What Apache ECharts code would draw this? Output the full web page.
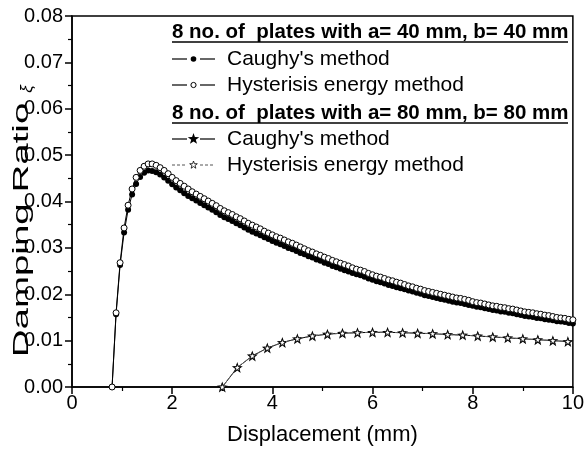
<!DOCTYPE html>
<html>
<head>
<meta charset="utf-8">
<script src="https://cdn.jsdelivr.net/npm/echarts@6/dist/echarts.min.js"></script>
<style>
html,body{margin:0;padding:0;background:#fff;}
#c{width:587px;height:451px;}
</style>
</head>
<body>
<div id="c"></div>
<script>
// ---- data ----
const xCircle = [0.80,0.88,0.96,1.04,1.12,1.20,1.28,1.36,1.44,1.52,1.60,1.68,1.76,1.84,1.92,2.00,2.08,2.16,2.24,2.32,2.40,2.48,2.56,2.64,2.72,2.80,2.88,2.96,3.04,3.12,3.20,3.28,3.36,3.44,3.52,3.60,3.68,3.76,3.84,3.92,4.00,4.08,4.16,4.24,4.32,4.40,4.48,4.56,4.64,4.72,4.80,4.88,4.96,5.04,5.12,5.20,5.28,5.36,5.44,5.52,5.60,5.68,5.76,5.84,5.92,6.00,6.08,6.16,6.24,6.32,6.40,6.48,6.56,6.64,6.72,6.80,6.88,6.96,7.04,7.12,7.20,7.28,7.36,7.44,7.52,7.60,7.68,7.76,7.84,7.92,8.00,8.08,8.16,8.24,8.32,8.40,8.48,8.56,8.64,8.72,8.80,8.88,8.96,9.04,9.12,9.20,9.28,9.36,9.44,9.52,9.60,9.68,9.76,9.84,9.92,10.00];
const caughy40 = [0,0.0157,0.0263,0.0333,0.0382,0.0415,0.0438,0.0453,0.0462,0.0467,
  0.0466,0.0463,0.0458,0.0452,0.0445,0.0437,0.0430,0.0424,0.0418,0.0412,
  0.0407,0.0402,0.0397,0.0392,0.0387,0.0382,0.0377,0.0371,0.0366,0.0362,
  0.0358,0.0353,0.0349,0.0344,0.0339,0.0335,0.0331,0.0327,0.0323,0.0319,
  0.0315,0.0311,0.0308,0.0304,0.0300,0.0297,0.0293,0.0289,0.0286,0.0282,
  0.0279,0.0275,0.0272,0.0268,0.0265,0.0261,0.0258,0.0255,0.0252,0.0249,
  0.0246,0.0243,0.0241,0.0238,0.0234,0.0231,0.0228,0.0226,0.0223,0.0220,
  0.0218,0.0215,0.0213,0.0211,0.0208,0.0206,0.0203,0.0201,0.0198,0.0196,
  0.0194,0.0192,0.0190,0.0188,0.0186,0.0184,0.0182,0.0181,0.0179,0.0177,
  0.0175,0.0173,0.0172,0.0170,0.0168,0.0166,0.0165,0.0163,0.0162,0.0160,
  0.0159,0.0157,0.0155,0.0153,0.0152,0.0151,0.0149,0.0148,0.0146,0.0145,
  0.0144,0.0142,0.0141,0.0140,0.0138,0.0137];
const hyst40 = [0,0.0160,0.0268,0.0343,0.0392,0.0427,0.0452,0.0467,0.0476,0.0481,
  0.0481,0.0478,0.0473,0.0467,0.0460,0.0452,0.0445,0.0439,0.0433,0.0427,
  0.0421,0.0416,0.0411,0.0406,0.0401,0.0396,0.0391,0.0385,0.0380,0.0376,
  0.0372,0.0367,0.0363,0.0358,0.0353,0.0349,0.0345,0.0341,0.0336,0.0332,
  0.0328,0.0324,0.0321,0.0317,0.0313,0.0310,0.0306,0.0302,0.0298,0.0294,
  0.0291,0.0287,0.0284,0.0280,0.0277,0.0273,0.0270,0.0267,0.0264,0.0261,
  0.0257,0.0254,0.0252,0.0249,0.0245,0.0242,0.0239,0.0237,0.0234,0.0231,
  0.0229,0.0226,0.0224,0.0221,0.0218,0.0216,0.0213,0.0211,0.0208,0.0206,
  0.0204,0.0202,0.0200,0.0198,0.0196,0.0194,0.0192,0.0191,0.0189,0.0187,
  0.0184,0.0182,0.0181,0.0179,0.0177,0.0175,0.0174,0.0172,0.0171,0.0169,
  0.0168,0.0166,0.0164,0.0162,0.0161,0.0160,0.0158,0.0157,0.0155,0.0154,
  0.0152,0.0150,0.0149,0.0148,0.0146,0.0145];
const xStar = [3.0,3.3,3.6,3.9,4.2,4.5,4.8,5.1,5.4,5.7,6.0,6.3,6.6,6.9,7.2,7.5,7.8,8.1,8.4,8.7,9.0,9.3,9.6,9.9];
const caughy80 = [0,0.0042,0.0067,0.0084,0.0096,0.0104,0.0110,0.0114,0.0116,0.0117,0.0118,0.0118,0.0117,0.0116,0.0115,0.0113,0.0112,0.0110,0.0108,0.0106,0.0104,0.0102,0.0100,0.0098];
const hyst80 = [0,0.0042,0.0067,0.0084,0.0096,0.0104,0.0110,0.0114,0.0116,0.0117,0.0118,0.0118,0.0117,0.0116,0.0115,0.0113,0.0112,0.0110,0.0108,0.0106,0.0104,0.0102,0.0100,0.0098];
const xTicks = [0,2,4,6,8,10];
const yTicks = ['0.00','0.01','0.02','0.03','0.04','0.05','0.06','0.07','0.08'];
const group1Title = '8 no. of  plates with a= 40 mm, b= 40 mm';
const group2Title = '8 no. of  plates with a= 80 mm, b= 80 mm';
const nameC = "Caughy's method";
const nameH = 'Hysterisis energy method';

const pairs = (xs, ys) => xs.map((x, i) => [x, ys[i]]);
const STAR = 'path://M50 0 L61.8 33.8 L97.6 34.5 L69 56.2 L79.4 90.5 L50 70 L20.6 90.5 L31 56.2 L2.4 34.5 L38.2 33.8 Z';
const FONT = 'Liberation Sans, Arial, sans-serif';

// legend key symbol: five-pointed star outline around a centre
function starShape(cx, cy, r) {
  const pts = [];
  for (let i = 0; i < 10; i++) {
    const a = -Math.PI / 2 + i * Math.PI / 5;
    const rr = i % 2 === 0 ? r : r * 0.4;
    pts.push([cx + rr * Math.cos(a), cy + rr * Math.sin(a)]);
  }
  return pts;
}

function legendRow(cy, kind, label) {
  const els = [];
  const dashed = kind === 'openStar';
  const lineStyle = dashed ? {stroke: '#555', lineWidth: 1, lineDash: [3, 2]} : {stroke: '#000', lineWidth: 1.2};
  els.push({type: 'line', shape: {x1: 172, y1: cy, x2: 187, y2: cy}, style: lineStyle, silent: true});
  els.push({type: 'line', shape: {x1: 200, y1: cy, x2: 215, y2: cy}, style: lineStyle, silent: true});
  if (kind === 'dot') {
    els.push({type: 'circle', shape: {cx: 193.5, cy: cy, r: 2.8}, style: {fill: '#000'}});
  } else if (kind === 'ring') {
    els.push({type: 'circle', shape: {cx: 193.5, cy: cy, r: 2.6}, style: {fill: '#fff', stroke: '#000', lineWidth: 1}});
  } else if (kind === 'star') {
    els.push({type: 'polygon', shape: {points: starShape(193.5, cy, 6)}, style: {fill: '#000'}});
  } else {
    els.push({type: 'polygon', shape: {points: starShape(193.5, cy, 4)}, style: {fill: '#fff', stroke: '#000', lineWidth: 0.8}});
  }
  els.push({type: 'text', x: 227, y: cy, style: {text: label, font: '21px ' + FONT, fill: '#000', verticalAlign: 'middle'}});
  return els;
}

const chart = echarts.init(document.getElementById('c'), null, {renderer: 'canvas'});
const option = {
  backgroundColor: '#fff',
  animation: false,
  textStyle: {fontFamily: FONT, color: '#000'},
  grid: {left: 72, right: 12, top: 16, bottom: 63, show: true, borderColor: '#000', borderWidth: 1.5, backgroundColor: 'transparent'},
  xAxis: {
    type: 'value', min: 0, max: 10, interval: 2,
    name: 'Displacement (mm)', nameLocation: 'middle', nameGap: 37,
    nameTextStyle: {fontSize: 22, fontFamily: FONT, color: '#000'},
    axisLine: {show: true, lineStyle: {color: '#000', width: 1.5}},
    axisTick: {show: true, inside: false, length: 7, lineStyle: {color: '#000', width: 1.5}},
    minorTick: {show: true, splitNumber: 2, length: 4, lineStyle: {color: '#000', width: 1.2}},
    axisLabel: {fontSize: 20, color: '#000', margin: 6, fontFamily: FONT,
      formatter: v => xTicks.indexOf(v) >= 0 ? String(v) : ''},
    splitLine: {show: false}
  },
  yAxis: {
    type: 'value', min: 0, max: 0.08, interval: 0.01,
    axisLine: {show: true, lineStyle: {color: '#000', width: 1.5}},
    axisTick: {show: true, inside: false, length: 7, lineStyle: {color: '#000', width: 1.5}},
    minorTick: {show: true, splitNumber: 2, length: 4, lineStyle: {color: '#000', width: 1.2}},
    axisLabel: {fontSize: 20, color: '#000', margin: 9, fontFamily: FONT,
      formatter: v => yTicks[Math.round(v * 100)] || ''},
    splitLine: {show: false}
  },
  graphic: [
    {type: 'text', x: 172, y: 32, style: {text: group1Title, font: 'bold 20.5px ' + FONT, fill: '#000', verticalAlign: 'middle'}},
    {type: 'line', shape: {x1: 172, y1: 42, x2: 568, y2: 42}, style: {stroke: '#000', lineWidth: 1.3}},
    ...legendRow(59, 'dot', nameC),
    ...legendRow(85, 'ring', nameH),
    {type: 'text', x: 172, y: 113, style: {text: group2Title, font: 'bold 20.5px ' + FONT, fill: '#000', verticalAlign: 'middle'}},
    {type: 'line', shape: {x1: 172, y1: 123, x2: 568, y2: 123}, style: {stroke: '#000', lineWidth: 1.3}},
    ...legendRow(139, 'star', nameC),
    ...legendRow(165, 'openStar', nameH),
    {type: 'text', x: 22, y: 230, rotation: Math.PI / 2, scaleX: 1.75, scaleY: 1,
      style: {text: 'Damping Ratio', font: '22px ' + FONT, fill: '#000', align: 'center', verticalAlign: 'middle'}},
    {type: 'text', x: 27, y: 89, rotation: Math.PI / 2,
      style: {text: 'ξ', font: 'italic 17px ' + FONT, fill: '#000', align: 'center', verticalAlign: 'middle'}}
  ],
  series: [
    {
      name: nameC + ' (a=b=40 mm)', type: 'line', data: pairs(xCircle, caughy40),
      symbol: 'circle', symbolSize: 6, showSymbol: true,
      lineStyle: {color: '#000', width: 1},
      itemStyle: {color: '#000', borderColor: '#000', borderWidth: 0},
      z: 2
    },
    {
      name: nameH + ' (a=b=40 mm)', type: 'line', data: pairs(xCircle, hyst40),
      symbol: 'circle', symbolSize: 6, showSymbol: true,
      lineStyle: {color: '#000', width: 1},
      itemStyle: {color: '#fff', borderColor: '#000', borderWidth: 1},
      z: 3
    },
    {
      name: nameC + ' (a=b=80 mm)', type: 'line', data: pairs(xStar, caughy80),
      symbol: STAR, symbolSize: 11, showSymbol: true,
      lineStyle: {color: '#000', width: 1},
      itemStyle: {color: '#000', borderColor: '#000', borderWidth: 0},
      z: 2
    },
    {
      name: nameH + ' (a=b=80 mm)', type: 'line', data: pairs(xStar, hyst80),
      symbol: STAR, symbolSize: 7, showSymbol: true,
      lineStyle: {color: '#666', width: 1, type: [3, 2]},
      itemStyle: {color: '#fff', borderColor: '#000', borderWidth: 0.8},
      z: 3
    }
  ]
};
chart.setOption(option);
</script>
</body>
</html>
